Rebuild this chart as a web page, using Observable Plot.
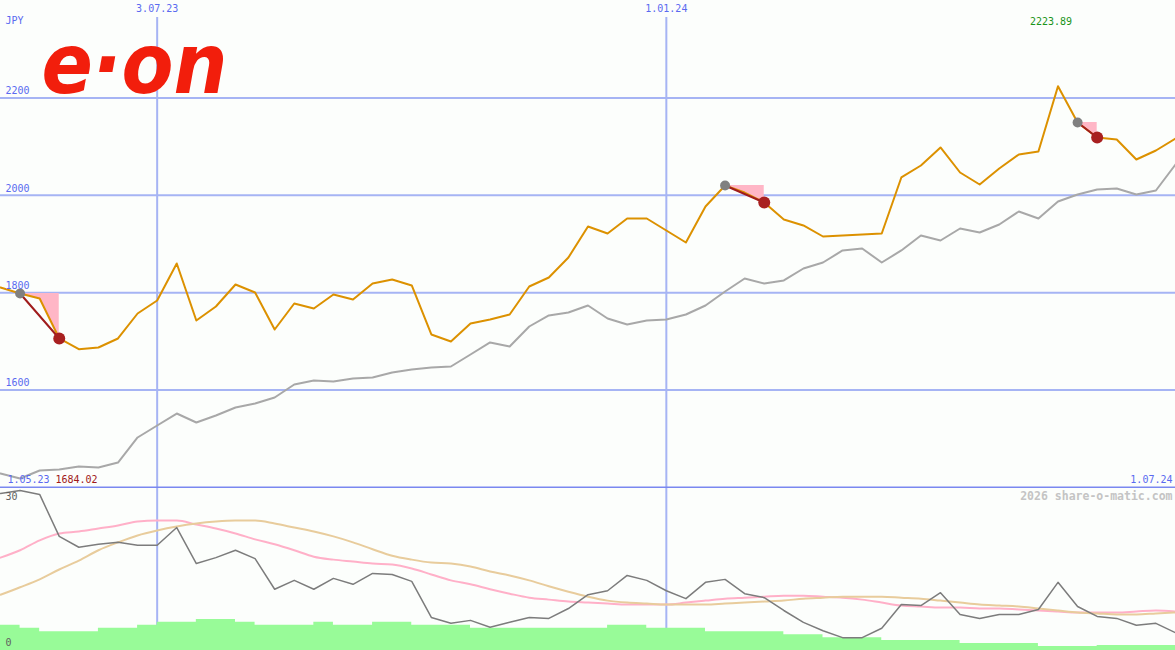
<!DOCTYPE html>
<html><head><meta charset="utf-8">
<script src="https://cdn.jsdelivr.net/npm/d3@7"></script>
<script src="https://cdn.jsdelivr.net/npm/@observablehq/plot@0.6"></script>
<style>
html,body{margin:0;padding:0;background:#fcfefc;}
#chart{width:1175px;height:650px;position:relative;overflow:hidden;background:#fcfefc;}
#chart svg{display:block;}
</style></head><body><div id="chart"></div>
<script>
// ---------- data ----------
const startDate = "2023-05-08"; // first weekly point (Mondays)
const price = [1810.7, 1798.4, 1788.1, 1706, 1684.02, 1687.5, 1706, 1757.3, 1784, 1860,
  1743, 1771.7, 1816.8, 1800.4, 1724.4, 1777.8, 1767.5, 1796.3, 1786, 1818.9,
  1827, 1814.8, 1714.2, 1699.8, 1736.8, 1745, 1755.2, 1812.7, 1831.2, 1872.3,
  1935.9, 1921.6, 1952.4, 1952.4, 1927.7, 1903.1, 1977, 2020.1, 2005.7, 1985.2,
  1950.3, 1938, 1915.4, 1917.4, 1919.5, 1921.6, 2036.6, 2061.2, 2098.2, 2046.8,
  2022.2, 2055, 2083.8, 2089.9, 2223.89, 2149.5, 2118.7, 2114.6, 2073.5, 2092, 2116.6];
const average = [1428.7, 1418.5, 1434.9, 1437, 1443.1, 1441.1, 1451.3, 1502.7, 1527.3, 1551.9,
  1533.5, 1547.8, 1564.3, 1572.5, 1584.8, 1611.5, 1619.7, 1617.7, 1623.8, 1625.9,
  1636.1, 1642.3, 1646.4, 1648.5, 1673.1, 1697.8, 1689.5, 1730.6, 1753.2, 1759.3,
  1773.7, 1747, 1734.7, 1742.9, 1745, 1755.2, 1773.7, 1802.5, 1829.2, 1818.9,
  1825.1, 1849.7, 1862, 1886.7, 1890.8, 1862, 1886.7, 1917.5, 1907.2, 1931.8,
  1923.6, 1940, 1966.7, 1952.4, 1987.3, 2001.6, 2011.9, 2013.9, 2001.6, 2009.9, 2063.2];
const volatility = [31.8, 32.4, 31.6, 23.1, 20.9, 21.5, 21.9, 21.3, 21.3, 24.9,
  17.6, 18.8, 20.3, 18.6, 12.4, 14.2, 12.4, 14.6, 13.4, 15.6,
  15.4, 14.0, 6.7, 5.5, 6.1, 4.7, 5.7, 6.7, 6.5, 8.5,
  11.3, 12.1, 15.2, 14.2, 12.1, 10.5, 13.8, 14.4, 11.5, 10.7,
  8.1, 5.7, 4.0, 2.6, 2.6, 4.5, 9.3, 9.1, 11.7, 7.3,
  6.5, 7.3, 7.3, 8.3, 13.8, 8.9, 6.9, 6.5, 5.1, 5.5, 3.6];
const volaShort = [18.8, 20.3, 22.3, 23.7, 24.1, 24.7, 25.3, 26.1, 26.3, 26.3,
  25.5, 24.7, 23.7, 22.5, 21.5, 20.3, 19.0, 18.4, 18.0, 17.6,
  17.4, 16.6, 15.4, 14.2, 13.4, 12.4, 11.5, 10.7, 10.3, 9.9,
  9.7, 9.5, 9.3, 9.3, 9.3, 9.7, 10.1, 10.5, 10.7, 10.9,
  11.1, 11.1, 10.9, 10.7, 10.3, 9.7, 9.1, 8.9, 8.7, 8.7,
  8.5, 8.5, 8.3, 8.1, 7.9, 7.7, 7.7, 7.7, 7.9, 8.1, 7.9];
const volaLong = [11.3, 12.8, 14.4, 16.4, 18.2, 20.3, 21.9, 23.3, 24.3, 25.1,
  25.7, 26.1, 26.3, 26.3, 25.7, 24.9, 24.1, 23.1, 21.9, 20.5,
  19.2, 18.4, 17.8, 17.6, 17.0, 16.0, 15.2, 14.2, 13.0, 11.9,
  10.9, 10.1, 9.7, 9.5, 9.3, 9.3, 9.3, 9.5, 9.7, 9.9,
  10.1, 10.5, 10.7, 10.9, 10.9, 10.9, 10.7, 10.5, 10.1, 9.7,
  9.3, 9.1, 8.9, 8.5, 8.1, 7.7, 7.5, 7.3, 7.3, 7.5, 7.7];
const volume = [5.1, 4.5, 3.8, 3.8, 3.8, 4.5, 4.5, 5.1, 5.7, 5.7,
  6.3, 6.3, 5.7, 5.1, 5.1, 5.1, 5.7, 5.1, 5.1, 5.7,
  5.7, 5.1, 5.1, 5.1, 4.5, 4.5, 4.5, 4.5, 4.5, 4.5,
  4.5, 5.1, 5.1, 4.5, 4.5, 4.5, 3.8, 3.8, 3.8, 3.8,
  3.2, 3.2, 2.6, 2.6, 2.6, 2.0, 2.0, 2.0, 2.0, 1.4,
  1.4, 1.4, 1.4, 0.8, 0.8, 0.8, 1.0, 1.0, 1.0, 1.0, 1.0];
const signalStart = [1, 37, 55];
const signalEnd = [3, 39, 56];
const yTicks = [1600, 1800, 2000, 2200];
const dateTicks = ["2023-07-03", "2024-01-01"];
const dateTickLabels = ["3.07.23", "1.01.24"];
const currency = "JPY";
const brand = "e·on";
const startLabel = "1.05.23";
const endLabel = "1.07.24";
const minLabel = "1684.02";
const maxLabel = "2223.89";
const maxIndex = 54;
const lowerTickLabels = ["30", "0"];
const credit = "2026 share-o-matic.com";

// ---------- build ----------
const t0 = new Date(startDate + "T00:00:00Z");
const dates = price.map((_, i) => d3.utcDay.offset(t0, 7 * i));
const rows = dates.map((d, i) => ({date: d, price: price[i], avg: average[i], vola: volatility[i],
  vs: volaShort[i], vl: volaLong[i], vol: volume[i]}));
const xDomain = [dates[0], dates[dates.length - 1]];
const tickDates = dateTicks.map(d => new Date(d + "T00:00:00Z"));
const areas = signalStart.flatMap((a, k) => rows.slice(a, signalEnd[k] + 1)
  .map(r => ({date: r.date, y1: price[a], y2: r.price, k})));
const sigLines = signalStart.flatMap((a, k) => [
  {date: dates[a], v: price[a], k}, {date: dates[signalEnd[k]], v: price[signalEnd[k]], k}]);

const mono = "DejaVu Sans Mono";
const blue = "#5a6af0";
const grid = "#a6b4f4";
const label = {fontFamily: mono, fontSize: 10, lineAnchor: "middle"};

const main = Plot.plot({
  width: 1175, height: 488, margin: 0,
  x: {type: "utc", domain: xDomain, range: [0, 1175], axis: null},
  y: {domain: [1400, 2400], range: [487, 0], axis: null},
  style: {background: "transparent"},
  marks: [
    Plot.ruleY(yTicks, {stroke: grid, strokeWidth: 2}),
    Plot.ruleX(tickDates, {stroke: grid, strokeWidth: 2, insetTop: 17}),
    Plot.ruleY([1400], {stroke: "#7a88f0", strokeWidth: 2}),
    Plot.text([brand], {frameAnchor: "top-left", dx: 41, dy: 92, lineAnchor: "bottom", textAnchor: "start",
      fontSize: 84, fontWeight: "bold", fontStyle: "italic", fontFamily: "DejaVu Sans", fill: "#f21e0c"}),
    Plot.areaY(areas, {x: "date", y1: "y1", y2: "y2", z: "k", fill: "#ffb6c6"}),
    Plot.lineY(rows, {x: "date", y: "avg", stroke: "#a8a8a8", strokeWidth: 2}),
    Plot.lineY(rows, {x: "date", y: "price", stroke: "#dc9100", strokeWidth: 2}),
    Plot.line(sigLines, {x: "date", y: "v", z: "k", stroke: "#a01c1c", strokeWidth: 2}),
    Plot.dot(signalStart.map(i => rows[i]), {x: "date", y: "price", r: 5, fill: "#808080"}),
    Plot.dot(signalEnd.map(i => rows[i]), {x: "date", y: "price", r: 6, fill: "#a82020"}),
    Plot.text(yTicks, {...label, y: d => d, text: d => String(d), frameAnchor: "left", dx: 5, dy: -7,
      textAnchor: "start", fill: blue}),
    Plot.text(tickDates, {...label, x: d => d, text: (d, i) => dateTickLabels[i], frameAnchor: "top", dy: 8,
      fill: blue}),
    Plot.text([currency], {...label, frameAnchor: "top-left", dx: 5, dy: 20, textAnchor: "start", fill: blue}),
    Plot.text([maxLabel], {...label, x: () => dates[maxIndex], text: d => d, frameAnchor: "top", dx: -7, dy: 21,
      fill: "#1a941a"}),
    Plot.text([startLabel], {...label, frameAnchor: "bottom-left", dx: 7, dy: -9, textAnchor: "start", fill: blue}),
    Plot.text([minLabel], {...label, frameAnchor: "bottom-left", dx: 55, dy: -9, textAnchor: "start",
      fill: "#a01818"}),
    Plot.text([endLabel], {...label, frameAnchor: "bottom-right", dx: -3, dy: -9, textAnchor: "end", fill: blue})
  ]
});
d3.select(main).selectAll("text").filter(function() { return this.textContent === brand; })
  .attr("textLength", 186).attr("lengthAdjust", "spacingAndGlyphs");

const lower = Plot.plot({
  width: 1175, height: 162, margin: 0,
  x: {type: "utc", domain: xDomain, range: [0, 1175], axis: null},
  y: {domain: [0, 32.8], range: [162, 0], axis: null},
  style: {background: "transparent"},
  marks: [
    Plot.ruleX(tickDates, {stroke: grid, strokeWidth: 2}),
    Plot.areaY(rows, {x: "date", y: "vol", curve: "step-after", fill: "#98fb98"}),
    Plot.lineY(rows, {x: "date", y: "vs", stroke: "#ffb0c8", strokeWidth: 2, curve: "monotone-x"}),
    Plot.lineY(rows, {x: "date", y: "vl", stroke: "#e8cc9c", strokeWidth: 2, curve: "monotone-x"}),
    Plot.lineY(rows, {x: "date", y: "vola", stroke: "#7c7c7c", strokeWidth: 1.5}),
    Plot.text([lowerTickLabels[0]], {...label, frameAnchor: "top-left", dx: 5, dy: 8, textAnchor: "start",
      fill: "#606060"}),
    Plot.text([lowerTickLabels[1]], {...label, frameAnchor: "bottom-left", dx: 5, dy: -8, textAnchor: "start",
      fill: "#606060"}),
    Plot.text([credit], {...label, frameAnchor: "top-right", dx: -3, dy: 8, textAnchor: "end",
      fill: "#c4c4c4", fontSize: 11.5, fontWeight: "bold"})
  ]
});

const host = document.getElementById("chart");
host.appendChild(main);
host.appendChild(lower);
</script>
</body></html>
